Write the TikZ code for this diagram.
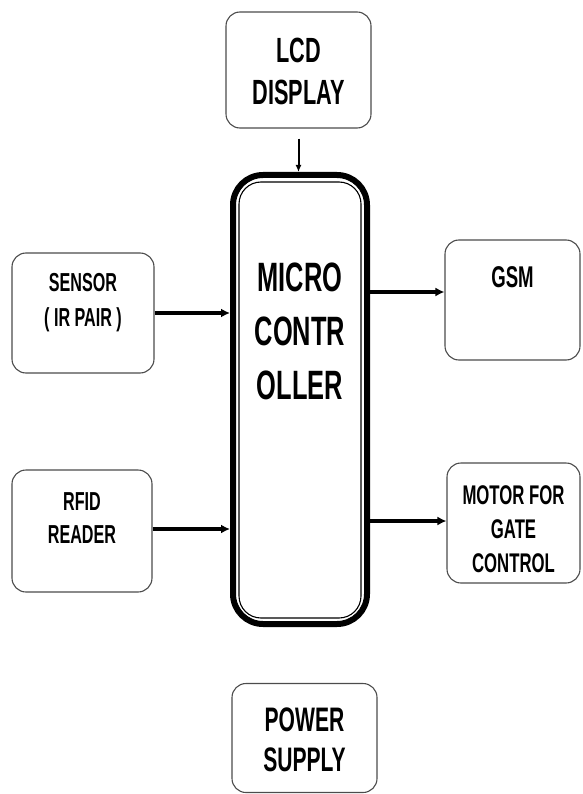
\documentclass[tikz,border=0pt]{standalone}
\usepackage{fontspec}
\setmainfont[FakeStretch=0.62]{Liberation Sans}
\usetikzlibrary{arrows.meta}

\begin{document}
\begin{tikzpicture}[
    x=1pt, y=-1pt,
    blk/.style={draw=black!70, line width=1.1pt, rounded corners=14pt,
        fill=white, inner sep=0pt},
    txt/.style={align=center, font=\bfseries, inner sep=0pt},
    link/.style={line width=3.2pt, -{Latex[length=9pt,width=9pt]}},
    feed/.style={line width=2pt, -{Latex[length=7pt,width=6pt]}}
]
    \useasboundingbox (0,0) rectangle (582,794);

    % micro controller, heavy frame with a thin inner line
    \node[draw, line width=6pt, rounded corners=30pt, minimum width=134pt,
        minimum height=449pt, inner sep=0pt] (mcu) at (300,399.5) {};
    \draw[line width=1.1pt, rounded corners=22pt]
        ([shift={(9pt,-10pt)}]mcu.north west) rectangle ([shift={(-9pt,9pt)}]mcu.south east);
    \node[txt, font=\bfseries\fontsize{41}{54}\selectfont] (mcu-t) at (300,331)
        {MICRO\\CONTR\\OLLER};

    % blocks round it
    \node[blk, minimum width=145pt, minimum height=116pt] (lcd) at (298.5,70) {};
    \node[blk, minimum width=142pt, minimum height=120pt] (sensor) at (83,313) {};
    \node[blk, minimum width=140pt, minimum height=122pt] (rfid) at (82,531) {};
    \node[blk, minimum width=135pt, minimum height=120pt] (gsm) at (512.5,300) {};
    \node[blk, minimum width=133pt, minimum height=120pt] (motor) at (513.5,523) {};
    \node[blk, minimum width=145pt, minimum height=109pt] (power) at (304.5,738) {};

    \node[txt, font=\bfseries\fontsize{35}{42}\selectfont] (lcd-t) at (298.5,71) {LCD\\DISPLAY};
    \node[txt, font=\bfseries\fontsize{26}{35}\selectfont] (sensor-t) at (83,302.5) {SENSOR\\( IR PAIR )};
    \node[txt, font=\bfseries\fontsize{26}{33}\selectfont] (rfid-t) at (82,518.5) {RFID\\READER};
    \node[txt, font=\bfseries\fontsize{30}{36}\selectfont] (gsm-t) at (512.5,277) {GSM};
    \node[txt, font=\bfseries\fontsize{27}{34}\selectfont] (motor-t) at (513.5,529) {MOTOR FOR\\GATE\\CONTROL};
    \node[txt, font=\bfseries\fontsize{34}{40}\selectfont] (power-t) at (304.5,740) {POWER\\SUPPLY};

    % connections
    \draw[feed] ([yshift=-10pt]lcd.south) -- (lcd.south |- mcu.north);
    \draw[link] (sensor.east) -- (sensor.east -| mcu.west);
    \draw[link] ([yshift=2pt]rfid.east) -- ([yshift=2pt]rfid.east -| mcu.west);
    \draw[link] ([yshift=8pt]gsm.west -| mcu.east) -- ([yshift=8pt]gsm.west);
    \draw[link] ([yshift=2pt]motor.west -| mcu.east) -- ([yshift=2pt]motor.west);
\end{tikzpicture}
\end{document}
